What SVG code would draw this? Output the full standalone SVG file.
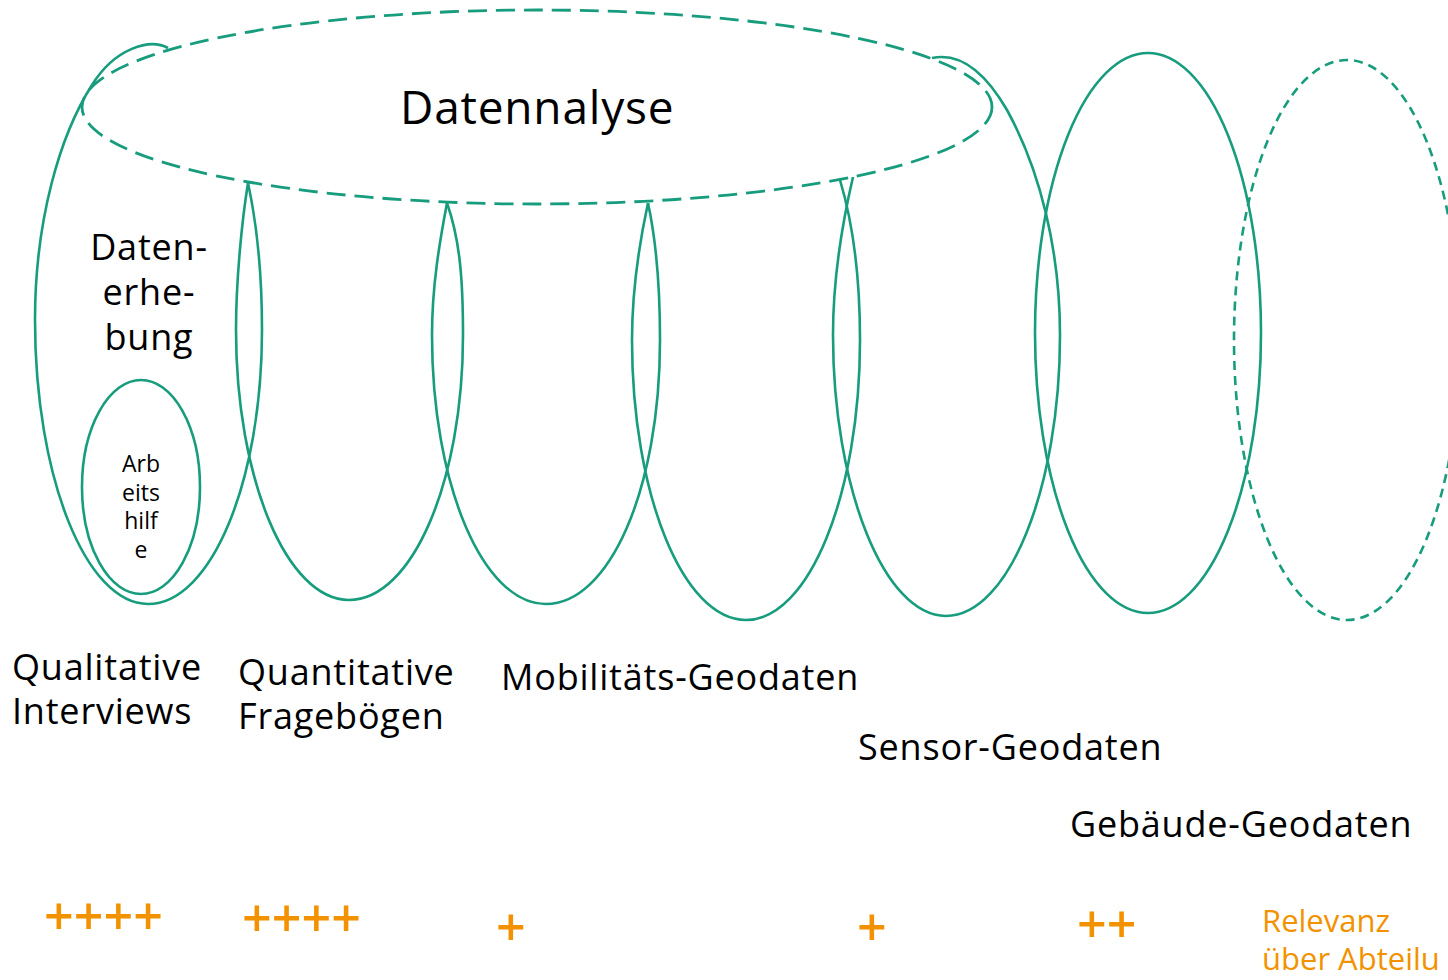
<svg xmlns="http://www.w3.org/2000/svg" width="1448" height="980" viewBox="0 0 1448 980">
<style>
.loop{fill:none;stroke:#179C7D;stroke-width:2.6}
.dash{fill:none;stroke:#179C7D;stroke-width:2.8;stroke-dasharray:19 9}
.dash2{fill:none;stroke:#179C7D;stroke-width:2.6;stroke-dasharray:9 6}
text{font-family:"Open Sans","Noto Sans",sans-serif;fill:#000}
.lbl{font-size:36px;letter-spacing:0.8px}
.title{font-size:46px;letter-spacing:0.8px}
.small{font-size:23px;text-anchor:middle}
.plus{font-size:52px;fill:#F39200;font-weight:600}
.rel{font-size:31px;fill:#F39200}
</style>
<rect width="1448" height="980" fill="#fff"/>
<g id="datenanalyse">
<ellipse class="dash" cx="537" cy="107" rx="455" ry="97"/>
<text class="title" x="400" y="124">Datennalyse</text>
</g>
<g id="loops">
<path id="loop1" class="loop" d="M168,48 C150,38 115,48 92,85 C60,135 35,220 35,320 C35,477 86,604 148,604 C211,604 262,482 262,330 C262,270 256,220 248,183"/>
<path id="loop2" class="loop" d="M248,183 C242,220 236,280 236,330 C236,479 287,600 349,600 C412,600 463,482 463,335 C463,280 460,240 447,203"/>
<path id="loop3" class="loop" d="M447,203 C440,240 432,285 432,335 C432,485 483,604 546,604 C609,604 660,490 660,340 C660,285 656,240 648,203"/>
<path id="loop4" class="loop" d="M648,203 C640,240 632,290 632,340 C632,494 683,620 746,620 C809,620 860,494 860,340 C860,270 852,220 840,180"/>
<path id="loop5" class="loop" d="M853,177 C843,220 833,280 833,335 C833,487 884,616 946,616 C1009,616 1060,487 1060,335 C1060,250 1040,170 1007,110 C985,72 960,52 932,58"/>
<ellipse id="loop6" class="loop" cx="1148" cy="333" rx="113" ry="280"/>
<ellipse id="loop7" class="dash2" cx="1347" cy="340" rx="113" ry="280"/>
</g>
<g id="datenerhebung">
<text class="lbl" text-anchor="middle" x="149" y="260">Daten-</text>
<text class="lbl" text-anchor="middle" x="149" y="305">erhe-</text>
<text class="lbl" text-anchor="middle" x="149" y="350">bung</text>
</g>
<g id="arbeitshilfe">
<ellipse class="loop" cx="141" cy="487" rx="59" ry="107"/>
<text class="small" x="141" y="472">Arb</text>
<text class="small" x="141" y="501">eits</text>
<text class="small" x="141" y="529">hilf</text>
<text class="small" x="141" y="558">e</text>
</g>
<g id="labels">
<text class="lbl" x="12" y="680">Qualitative</text>
<text class="lbl" x="12" y="724">Interviews</text>
<text class="lbl" x="238" y="685">Quantitative</text>
<text class="lbl" x="238" y="729">Fragebögen</text>
<text class="lbl" x="501" y="690">Mobilitäts-Geodaten</text>
<text class="lbl" x="858" y="760">Sensor-Geodaten</text>
<text class="lbl" x="1070" y="837">Gebäude-Geodaten</text>
</g>
<g id="relevanz">
<text class="plus" x="44" y="935">++++</text>
<text class="plus" x="242" y="937">++++</text>
<text class="plus" x="496" y="946">+</text>
<text class="plus" x="857" y="946">+</text>
<text class="plus" x="1077" y="943">++</text>
<text class="rel" x="1262" y="932">Relevanz</text>
<text class="rel" x="1262" y="970">über Abteilu</text>
</g>
</svg>
